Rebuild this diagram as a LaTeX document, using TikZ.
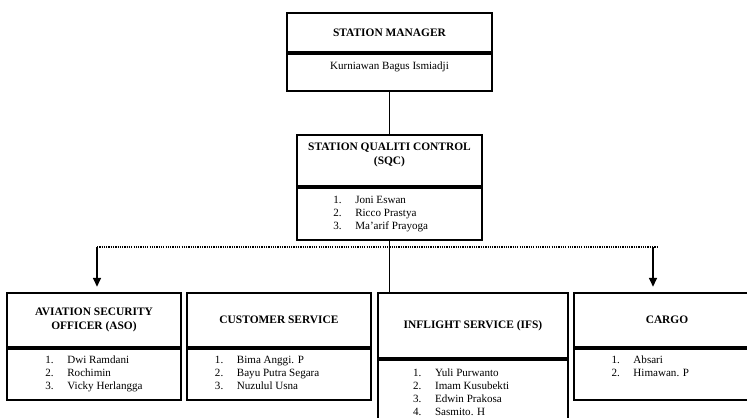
\documentclass[tikz,border=0pt]{standalone}
\usepackage{fontspec}
\setmainfont{Liberation Serif}
\usetikzlibrary{positioning,arrows.meta}
\newcommand{\crew}[2][11pt]{\begin{tabular}{@{}p{12.5pt}@{}l@{\hspace{#1}}}#2\end{tabular}}

\begin{document}
\begin{tikzpicture}[x=0.02cm,y=-0.02cm,
  hdr/.style={draw, line width=1pt, align=center, inner sep=1pt, font=\fontsize{6.5}{7.9}\selectfont\bfseries},
  lst/.style={draw, line width=1pt, align=center, inner sep=1pt, font=\fontsize{6.3}{7.4}\selectfont},
  link/.style={line width=0.9pt},
  arr/.style={line width=0.8pt, -{Triangle[width=4.5pt,length=5pt]}, shorten >=3pt},
  dots/.style={line width=0.9pt, dash pattern=on 0.7pt off 0.6pt}]
\useasboundingbox (0,0) rectangle (747,417);
\clip (0,0) rectangle (747,417);
\node[hdr, minimum width=4.1cm, minimum height=0.78cm, anchor=north] (smh) at (389.5,12) {STATION MANAGER};
\node[lst, minimum width=4.1cm, minimum height=0.74cm, below=0pt of smh] (smb) {Kurniawan Bagus Ismiadji\\ ~};
\node[hdr, minimum width=3.7cm, minimum height=1.02cm, anchor=north] (sqch) at (389.5,134) {STATION QUALITI CONTROL\\(SQC)\\ ~};
\node[lst, minimum width=3.7cm, minimum height=1.04cm, below=0pt of sqch] (sqcb) {\crew[10pt]{1. & Joni Eswan\\ 2. & Ricco Prastya\\ 3. & Ma'arif Prayoga}};
\node[hdr, minimum width=3.48cm, minimum height=1.08cm, anchor=north] (asoh) at (94,292) {AVIATION SECURITY\\OFFICER (ASO)};
\node[lst, minimum width=3.48cm, minimum height=1.02cm, below=0pt of asoh] (asob) {\crew[0pt]{1. & Dwi Ramdani\\ 2. & Rochimin\\ 3. & Vicky Herlangga}};
\node[hdr, minimum width=3.68cm, minimum height=1.08cm, anchor=north] (csh) at (279,292) {CUSTOMER SERVICE};
\node[lst, minimum width=3.68cm, minimum height=1.02cm, below=0pt of csh] (csb) {\crew[13.5pt]{1. & Bima Anggi. P\\ 2. & Bayu Putra Segara\\ 3. & Nuzulul Usna}};
\node[hdr, minimum width=3.8cm, minimum height=1.3cm, anchor=north] (ifsh) at (473,292) {INFLIGHT SERVICE (IFS)};
\node[lst, minimum width=3.8cm, minimum height=1.36cm, below=0pt of ifsh] (ifsb) {\crew[13.5pt]{1. & Yuli Purwanto\\ 2. & Imam Kusubekti\\ 3. & Edwin Prakosa\\ 4. & Sasmito. H}};
\node[hdr, minimum width=3.72cm, minimum height=1.08cm, anchor=north] (cgh) at (667,292) {CARGO};
\node[lst, minimum width=3.72cm, minimum height=1.02cm, below=0pt of cgh] (cgb) {\crew[19pt]{1. & Absari\\ 2. & Himawan. P\\ & ~}};
\coordinate (dl) at (97,247);
\coordinate (dr) at (658,247);
\coordinate (ar) at (653,247);
\draw[link] (smb) -- (sqch);
\draw[link] (sqcb.south) -- (sqcb.south |- ifsh.north);
\draw[dots] (dl) -- (dr);
\draw[arr] (dl) -- (dl |- asoh.north);
\draw[arr] (ar) -- (ar |- cgh.north);
\end{tikzpicture}
\end{document}
